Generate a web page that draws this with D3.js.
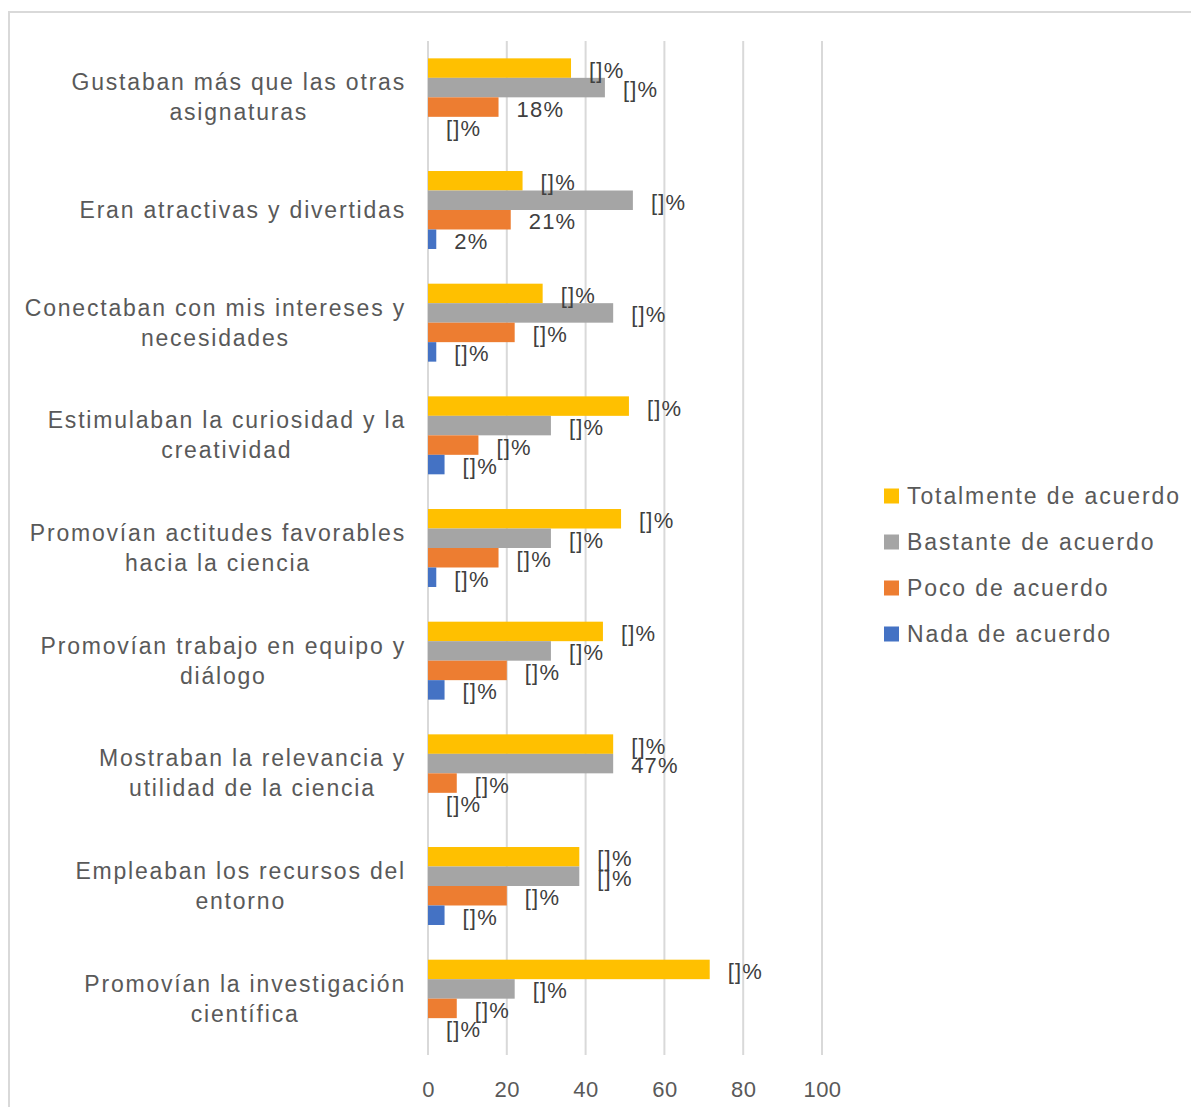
<!DOCTYPE html>
<html>
<head>
<meta charset="utf-8">
<script src="https://cdn.jsdelivr.net/npm/d3@7"></script>
<style>
  html, body { margin: 0; padding: 0; background: #ffffff; }
  svg { display: block; font-family: "Liberation Sans", Arial, sans-serif; }
</style>
</head>
<body>
<svg id="chart" width="1191" height="1107"></svg>
<script>
// ---- data ----
const categories = [
  "Gustaban más que las otras\nasignaturas",
  "Eran atractivas y divertidas",
  "Conectaban con mis intereses y\nnecesidades",
  "Estimulaban la curiosidad y la\ncreatividad",
  "Promovían actitudes favorables\nhacia la ciencia",
  "Promovían trabajo en equipo y\ndiálogo",
  "Mostraban la relevancia y\nutilidad de la ciencia",
  "Empleaban los recursos del\nentorno",
  "Promovían la investigación\ncientífica"
];
const seriesNames = ["Totalmente de acuerdo", "Bastante de acuerdo", "Poco de acuerdo", "Nada de acuerdo"];
const totalmente = [36.3, 24.0, 29.1, 51.0, 49.0, 44.4, 47.0, 38.4, 71.5];
const bastante   = [44.9, 52.0, 47.0, 31.2, 31.2, 31.2, 47.0, 38.4, 22.0];
const poco       = [17.9, 21.0, 22.0, 12.8, 17.9, 20.0, 7.3, 20.0, 7.3];
const nada       = [0.0, 2.1, 2.1, 4.2, 2.1, 4.2, 0.0, 4.2, 0.0];
const labTotalmente = ["[]%", "[]%", "[]%", "[]%", "[]%", "[]%", "[]%", "[]%", "[]%"];
const labBastante   = ["[]%", "[]%", "[]%", "[]%", "[]%", "[]%", "47%", "[]%", "[]%"];
const labPoco       = ["18%", "21%", "[]%", "[]%", "[]%", "[]%", "[]%", "[]%", "[]%"];
const labNada       = ["[]%", "2%", "[]%", "[]%", "[]%", "[]%", "[]%", "[]%", "[]%"];
const xTicks = [0, 20, 40, 60, 80, 100];
const colors = ["#FFC000", "#A5A5A5", "#ED7D31", "#4472C4"];

const seriesValues = [totalmente, bastante, poco, nada];
const seriesLabels = [labTotalmente, labBastante, labPoco, labNada];

// ---- drawing ----
const svg = d3.select("#chart");

// outer chart border
svg.append("rect")
  .attr("x", 9).attr("y", 12)
  .attr("width", 1300).attr("height", 1300)
  .attr("fill", "none").attr("stroke", "#D9D9D9").attr("stroke-width", 2);

const x = d3.scaleLinear().domain([0, 100]).range([428, 822]);
const y = d3.scaleBand().domain(d3.range(categories.length)).range([41, 1055])
  .paddingInner(0.308).paddingOuter(0.154);
const ys = d3.scaleBand().domain(d3.range(seriesNames.length)).range([0, y.bandwidth()]);

// gridlines
svg.append("g").selectAll("line").data(xTicks).join("line")
  .attr("x1", d => x(d)).attr("x2", d => x(d))
  .attr("y1", 41).attr("y2", 1055)
  .attr("stroke", "#D9D9D9").attr("stroke-width", 2);

// x tick labels via axis
const xAxis = d3.axisBottom(x).tickValues(xTicks).tickSize(0).tickPadding(0);
const gx = svg.append("g").attr("transform", "translate(0,1078)").call(xAxis);
gx.select(".domain").remove();
gx.selectAll("text")
  .attr("font-size", 22).attr("fill", "#595959")
  .attr("font-family", "\"Liberation Sans\", Arial, sans-serif")
  .attr("letter-spacing", 0.5)
  .attr("dy", "0.1em")
  .attr("dominant-baseline", "middle")
  .attr("y", 11);

// bars
const rows = [];
seriesValues.forEach((vals, s) => vals.forEach((v, i) => rows.push({ s, i, v, lab: seriesLabels[s][i] })));

svg.append("g").selectAll("rect").data(rows).join("rect")
  .attr("x", x(0))
  .attr("y", d => y(d.i) + ys(d.s))
  .attr("width", d => x(d.v) - x(0))
  .attr("height", ys.bandwidth())
  .attr("fill", d => colors[d.s]);

// data labels
svg.append("g").selectAll("text").data(rows).join("text")
  .attr("x", d => x(d.v) + 18)
  .attr("y", d => y(d.i) + ys(d.s) + ys.bandwidth() / 2 + 2)
  .attr("dominant-baseline", "central")
  .attr("font-size", 22)
  .attr("letter-spacing", 1.2)
  .attr("fill", "#404040")
  .text(d => d.lab);

// category labels: block right-aligned at 406, lines centered within block
const catG = svg.append("g");
categories.forEach((c, i) => {
  const lines = c.split("\n");
  const cy = y(i) + y.bandwidth() / 2;
  const lh = 30;
  const t = catG.append("text")
    .attr("text-anchor", "middle")
    .attr("font-size", 23)
    .attr("letter-spacing", 1.8)
    .attr("fill", "#595959");
  const spans = lines.map((ln, k) => t.append("tspan")
      .attr("y", cy + (k - (lines.length - 1) / 2) * lh)
      .attr("dominant-baseline", "central")
      .text(ln));
  const widths = spans.map(s => s.node().getComputedTextLength());
  const maxW = d3.max(widths);
  const cx = 406 - maxW / 2;
  spans.forEach(s => s.attr("x", cx));
});

// legend
const leg = svg.append("g");
seriesNames.forEach((n, i) => {
  const cy = 496 + i * 46;
  leg.append("rect").attr("x", 884).attr("y", cy - 7.5).attr("width", 15).attr("height", 15).attr("fill", colors[i]);
  leg.append("text").attr("x", 907).attr("y", cy)
    .attr("dominant-baseline", "central")
    .attr("font-size", 23).attr("letter-spacing", 1.9)
    .attr("fill", "#595959").text(n);
});
</script>
</body>
</html>
